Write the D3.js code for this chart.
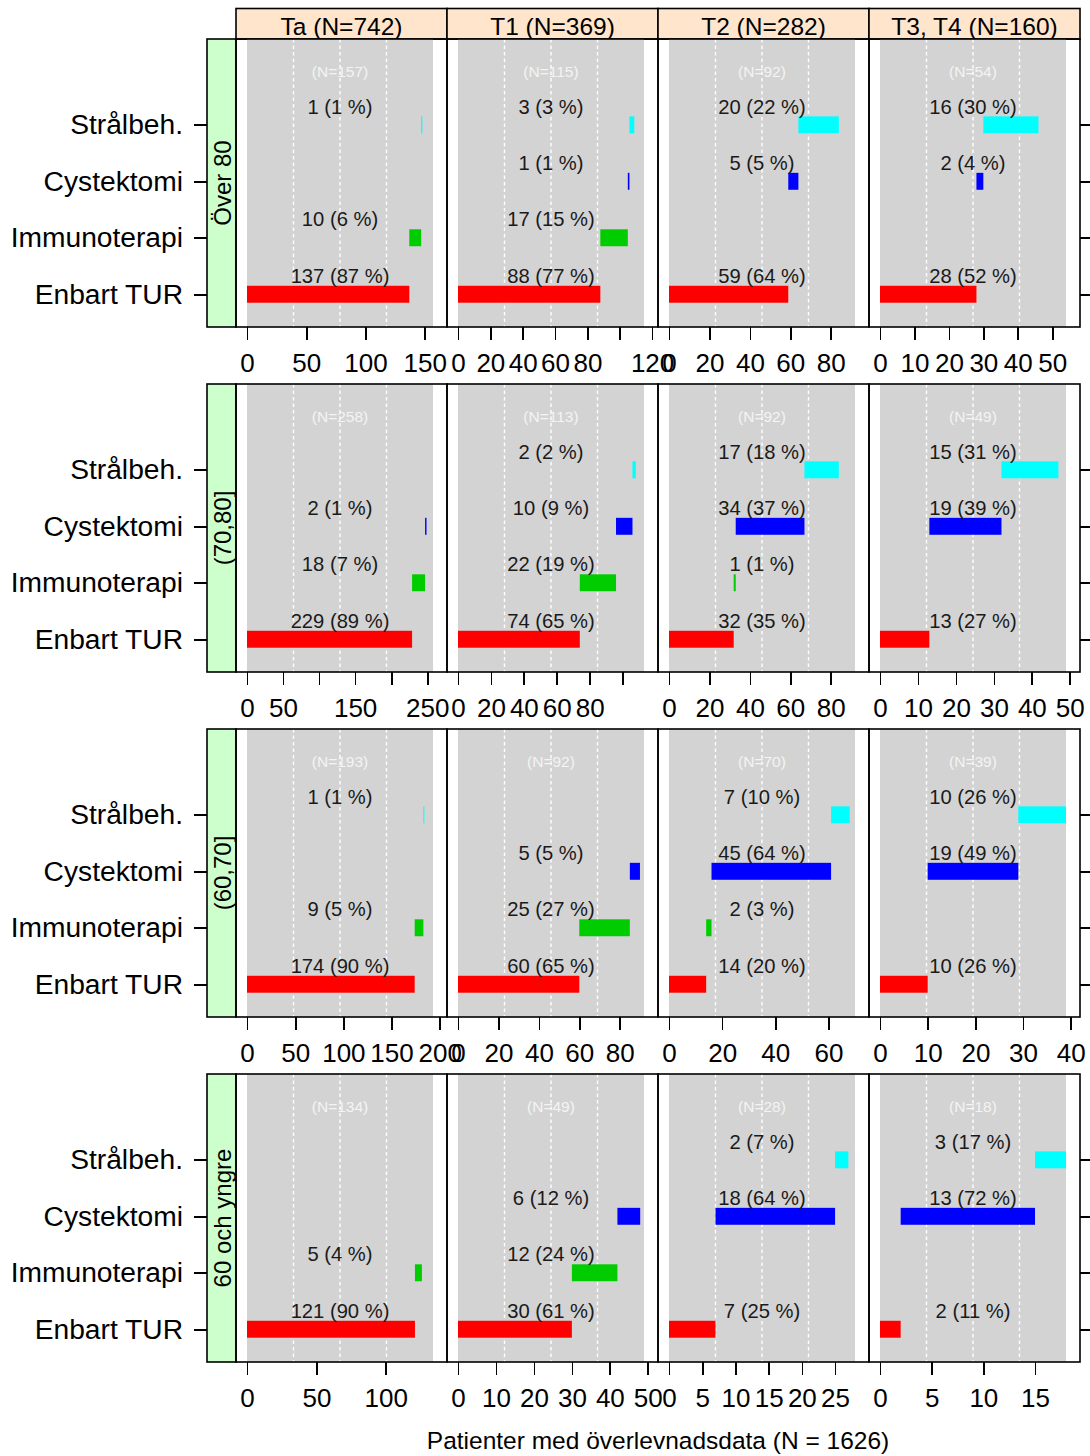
<!DOCTYPE html>
<meta charset="utf-8">
<style>
    body { margin: 0; background: #fff; }
    svg { font-family: "Liberation Sans", Arial, sans-serif; }
    .axis path.domain { display: none; }
    .axis line { stroke: black; stroke-width: 1.7; shape-rendering: crispEdges; }
    .axis text { font-size: 26px; fill: black; font-family: "Liberation Sans", Arial, sans-serif; }
    .yaxis text { font-size: 28.2px; }
</style>

<svg width="1090" height="1456"></svg>

<script src="https://cdn.jsdelivr.net/npm/d3@7"></script>

<script>
    // tumörstadium (kolumner) och åldersgrupper (rader)
    var stages = ["Ta (N=742)", "T1 (N=369)", "T2 (N=282)", "T3, T4 (N=160)"];
    var ageGroups = ["Över 80", "(70,80]", "(60,70]", "60 och yngre"];
    var treatments = ["Enbart TUR", "Immunoterapi", "Cystektomi", "Strålbeh."];

    // antal patienter per panel [rad][kolumn]
    var groupN = [[157, 115, 92, 54], [258, 113, 92, 49], [193, 92, 70, 39], [134, 49, 28, 18]];
    var enbartTur = [[137, 88, 59, 28], [229, 74, 32, 13], [174, 60, 14, 10], [121, 30, 7, 2]];
    var immunoterapi = [[10, 17, 0, 0], [18, 22, 1, 0], [9, 25, 2, 0], [5, 12, 0, 0]];
    var cystektomi = [[0, 1, 5, 2], [2, 10, 34, 19], [0, 5, 45, 19], [0, 6, 18, 13]];
    var stralbeh = [[1, 3, 20, 16], [0, 2, 17, 15], [1, 0, 7, 10], [0, 0, 2, 3]];

    // x-axelns ticks per panel, och etiketter som R hoppar över
    var xTicks = [
        [[0, 50, 100, 150], [0, 20, 40, 60, 80, 100, 120], [0, 20, 40, 60, 80], [0, 10, 20, 30, 40, 50]],
        [[0, 50, 100, 150, 200, 250], [0, 20, 40, 60, 80, 100], [0, 20, 40, 60, 80], [0, 10, 20, 30, 40, 50]],
        [[0, 50, 100, 150, 200], [0, 20, 40, 60, 80], [0, 20, 40, 60], [0, 10, 20, 30, 40]],
        [[0, 50, 100], [0, 10, 20, 30, 40, 50], [0, 5, 10, 15, 20, 25], [0, 5, 10, 15]]
    ];
    var xHidden = [
        [[], [100], [], []],
        [[100, 200], [100], [], []],
        [[], [], [], []],
        [[], [], [], []]
    ];
    var xLabel = "Patienter med överlevnadsdata (N = 1626)";

    (function () {
        var svg = d3.select("svg"),
            colLeft = 236,
            colWidth = 211,
            rowTop = 39,
            rowPitch = 345,
            panelHeight = 288,
            stripLeft = 207,
            stripWidth = 29,
            counts = [enbartTur, immunoterapi, cystektomi, stralbeh],
            barColors = ["#ff0000", "#00cc00", "#0000ff", "#00ffff"];

        // övre strips
        stages.forEach(function (s, c) {
            var x0 = colLeft + c * colWidth;
            svg.append("rect")
                .attr("x", x0).attr("y", 8.5)
                .attr("width", colWidth).attr("height", rowTop - 8.5)
                .attr("fill", "#ffe5cc").attr("stroke", "black").attr("stroke-width", 1.6);
            svg.append("text")
                .attr("x", x0 + colWidth / 2).attr("y", 35)
                .attr("text-anchor", "middle")
                .attr("font-size", 24.5)
                .text(s);
        });

        ageGroups.forEach(function (age, r) {
            var top = rowTop + r * rowPitch,
                bottom = top + panelHeight,
                y = d3.scaleLinear().domain([5.52, 0.42]).range([top, bottom]);

            // vänster strip
            svg.append("rect")
                .attr("x", stripLeft).attr("y", top)
                .attr("width", stripWidth).attr("height", panelHeight)
                .attr("fill", "#ccffcc").attr("stroke", "black").attr("stroke-width", 1.6);
            svg.append("text")
                .attr("transform", "translate(" + [stripLeft + 23.5, top + panelHeight / 2] + ") rotate(-90)")
                .attr("text-anchor", "middle")
                .attr("font-size", 24)
                .text(age);

            stages.forEach(function (s, c) {
                var x0 = colLeft + c * colWidth,
                    x1 = x0 + colWidth,
                    n = groupN[r][c],
                    x = d3.scaleLinear().domain([0, n]).range([x0 + 11, x1 - 14]),
                    g = svg.append("g");

                g.append("rect")
                    .attr("x", x(0)).attr("y", top)
                    .attr("width", x(n) - x(0)).attr("height", panelHeight)
                    .attr("fill", "#d3d3d3");

                g.selectAll("line.grid")
                    .data([0.25, 0.5, 0.75])
                    .enter()
                    .append("line")
                    .attr("x1", function (d) { return x(d * n); })
                    .attr("x2", function (d) { return x(d * n); })
                    .attr("y1", top).attr("y2", bottom)
                    .attr("stroke", "white")
                    .attr("stroke-width", 1.4)
                    .attr("stroke-dasharray", "3.5,3");

                g.append("text")
                    .attr("x", x(n / 2)).attr("y", y(4.84))
                    .attr("text-anchor", "middle")
                    .attr("font-size", 15.5)
                    .attr("fill", "#f4f4f4")
                    .text("(N=" + n + ")");

                var start = 0;
                treatments.forEach(function (t, k) {
                    var v = counts[k][r][c];
                    if (v > 0) {
                        g.append("rect")
                            .attr("x", x(start))
                            .attr("y", y(k + 1.15))
                            .attr("width", x(start + v) - x(start))
                            .attr("height", y(k + 0.85) - y(k + 1.15))
                            .attr("fill", barColors[k]);
                        g.append("text")
                            .attr("x", x(n / 2)).attr("y", y(k + 1.2))
                            .attr("text-anchor", "middle")
                            .attr("font-size", 20.2)
                            .attr("fill", "#1a1a1a")
                            .text(v + " (" + Math.round(v / n * 100) + " %)");
                    }
                    start += v;
                });

                g.append("rect")
                    .attr("x", x0).attr("y", top)
                    .attr("width", colWidth).attr("height", panelHeight)
                    .attr("fill", "none").attr("stroke", "black").attr("stroke-width", 1.6);

                svg.append("g")
                    .attr("class", "axis")
                    .attr("transform", "translate(" + [0, bottom] + ")")
                    .call(d3.axisBottom(x)
                        .tickValues(xTicks[r][c])
                        .tickSize(13)
                        .tickPadding(14)
                        .tickFormat(function (d) {
                            return xHidden[r][c].indexOf(d) >= 0 ? "" : d;
                        }));
            });

            svg.append("g")
                .attr("class", "axis yaxis")
                .attr("transform", "translate(" + [stripLeft, 0] + ")")
                .call(d3.axisLeft(y)
                    .tickValues([1, 2, 3, 4])
                    .tickSize(13)
                    .tickPadding(11)
                    .tickFormat(function (d) { return treatments[d - 1]; }));

            svg.append("g")
                .attr("class", "axis")
                .attr("transform", "translate(" + [colLeft + 4 * colWidth, 0] + ")")
                .call(d3.axisRight(y)
                    .tickValues([1, 2, 3, 4])
                    .tickSize(13)
                    .tickFormat(""));
        });

        svg.append("text")
            .attr("x", (colLeft + colLeft + 4 * colWidth) / 2)
            .attr("y", 1449)
            .attr("text-anchor", "middle")
            .attr("font-size", 24.5)
            .text(xLabel);
    })();
</script>
